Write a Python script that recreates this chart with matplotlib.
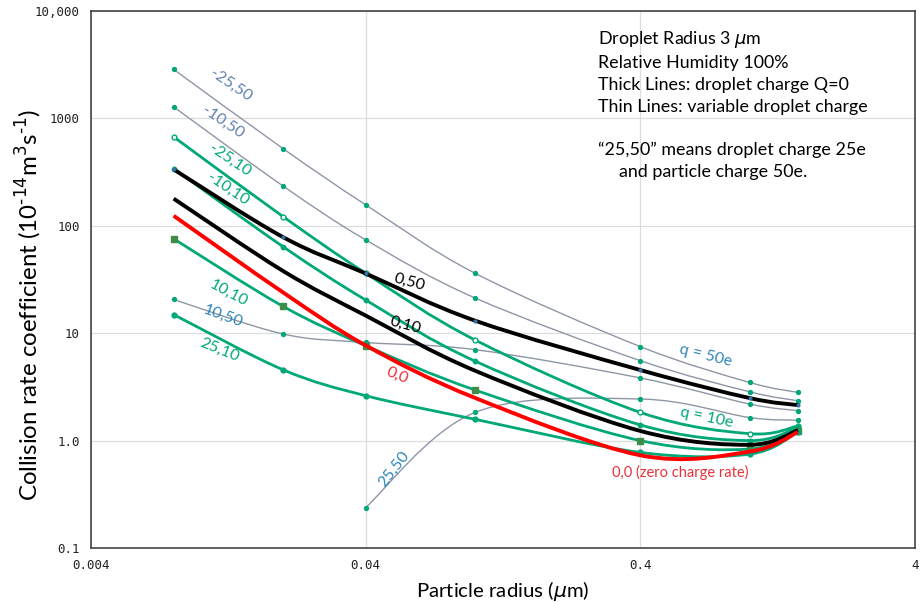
import numpy as np
import matplotlib
matplotlib.use('Agg')
from matplotlib import pyplot as plt
from matplotlib.path import Path
import matplotlib.patches as patches
from matplotlib.ticker import FixedLocator, NullLocator

# 粒子半径 (um)
radius = [0.008, 0.02, 0.04, 0.1, 0.4, 1.0, 1.5]

# 碰撞率系数, 名称 = 液滴电荷,粒子电荷
m25_50 = [2860, 524, 157, 36.2, 7.5, 3.48, 2.81]
m10_50 = [1280, 235, 74, 21.3, 5.55, 2.85, 2.35]
p10_50 = [20.6, 9.84, 8.2, 7.03, 3.83, 2.19, 1.90]
p25_50 = [np.nan, np.nan, 0.238, 1.83, 2.44, 1.64, 1.55]
m25_10 = [673, 122, 36.2, 8.66, 1.83, 1.16, 1.37]
m10_10 = [341, 64, 20.4, 5.5, 1.40, 1.0, 1.33]
p10_10 = [75.7, 17.8, 7.66, 2.96, 1.0, 0.834, 1.22]
p25_10 = [14.9, 4.57, 2.62, 1.58, 0.776, 0.748, 1.2]
q0_50 = [335, 78.5, 36, 13.1, 4.54, 2.49, 2.14]
q0_10 = [179, 38, 14.6, 4.48, 1.23, 0.914, 1.25]
q0_0 = [124, 24, 7.7, 2.5, 0.73, 0.79, 1.2]

x_ticks = [0.004, 0.04, 0.4, 4]
x_labels = ['0.004', '0.04', '0.4', '4']
y_ticks = [0.1, 1, 10, 100, 1000, 10000]
y_labels = ['0.1', '1.0', '10', '100', '1000', '10,000']

GREEN = '#00A878'
GREY = '#8E96A6'
BLUE = '#2F86B8'
SLATE = '#5F7FAE'
RED_TXT = '#E8303A'


def smooth_path(xs, ys):
    """Excel 风格的平滑曲线: log-log 空间里的 Catmull-Rom -> Bezier"""
    xs = np.asarray(xs, float)
    ys = np.asarray(ys, float)
    ok = ~np.isnan(ys)
    pts = np.column_stack([np.log10(xs[ok]), np.log10(ys[ok])])
    n = len(pts)
    verts = [pts[0]]
    codes = [Path.MOVETO]
    for i in range(n - 1):
        p0 = pts[max(i - 1, 0)]
        p1 = pts[i]
        p2 = pts[i + 1]
        p3 = pts[min(i + 2, n - 1)]
        c1 = p1 + (p2 - p0) / 6
        c2 = p2 - (p3 - p1) / 6
        verts += [c1, c2, p2]
        codes += [Path.CURVE4] * 3
    verts = 10 ** np.array(verts)
    return Path(verts, codes)


def draw(ax, ys, color, lw, marker=None, ms=3, mfc=None, mec=None, z=2):
    ax.add_patch(patches.PathPatch(smooth_path(radius, ys), fill=False,
                                   edgecolor=color, lw=lw, zorder=z))
    if marker:
        ax.plot(radius, ys, linestyle='none', marker=marker, ms=ms,
                mfc=mfc or GREEN, mec=mec or GREEN, mew=1, zorder=z + 0.5)


fig, ax = plt.subplots(figsize=(9.22, 6.02), dpi=100)
fig.subplots_adjust(left=0.0987, right=0.9924, top=0.9817, bottom=0.0897)

ax.set_xscale('log')
ax.set_yscale('log')
ax.set_xlim(0.004, 4)
ax.set_ylim(0.1, 10000)

# 细线 (灰色)
for s in [m25_50, m10_50, p10_50, p25_50]:
    draw(ax, s, GREY, 1.0, marker='o', ms=2.8, z=2)

# 绿色线
draw(ax, m25_10, GREEN, 2.0, marker='o', ms=3.5, mfc='white', z=3)
draw(ax, m10_10, GREEN, 2.0, marker='o', ms=3.2, z=3)
draw(ax, p10_10, GREEN, 2.0, marker='s', ms=4, mfc='#3E8E4A', mec='#3E8E4A', z=3)
draw(ax, p25_10, GREEN, 2.0, marker='o', ms=3.5, z=3)

# 粗线 Q=0
draw(ax, q0_50, 'black', 2.8, marker='o', ms=2, mfc='#3B6EA5', mec='#3B6EA5', z=4)
draw(ax, q0_10, 'black', 2.8, z=4)
draw(ax, q0_0, '#FF0000', 2.8, z=5)

# 坐标轴
ax.xaxis.set_major_locator(FixedLocator(x_ticks))
ax.yaxis.set_major_locator(FixedLocator(y_ticks))
ax.xaxis.set_minor_locator(NullLocator())
ax.yaxis.set_minor_locator(NullLocator())
ax.set_xticklabels(x_labels, fontsize=9, family='DejaVu Sans Mono')
ax.set_yticklabels(y_labels, fontsize=9, family='DejaVu Sans Mono')
ax.tick_params(length=0, pad=8, colors='#222222')
ax.grid(True, color='#DDDDDD', lw=0.9)
ax.set_axisbelow(True)
for sp in ax.spines.values():
    sp.set_color('#444444')
    sp.set_linewidth(1.2)

ax.set_xlabel(r'Particle radius ($\mu$m)', fontsize=14.7, family='Lato', labelpad=5)
ax.set_ylabel('Collision rate coefficient (10$^{\\text{-}14}$m$^{3}$s$^{\\text{-}1}$)',
              fontsize=17.3, family='Lato', va='center')
ax.yaxis.set_label_coords(-0.0752, 0.452)

# 曲线标签
labels = [
    ('-25,50', 0.0129, 2040, -34, SLATE),
    ('-10,50', 0.0121, 920, -34, SLATE),
    ('-25,10', 0.0128, 405, -34, GREEN),
    ('-10,10', 0.0126, 219, -34, GREEN),
    ('10,10', 0.0127, 23.4, -28, GREEN),
    ('10,50', 0.0121, 14.3, -20, BLUE),
    ('25,10', 0.0117, 6.9, -22, GREEN),
    ('0,50', 0.0578, 29.6, -15, 'black'),
    ('0,10', 0.0556, 11.8, -15, 'black'),
    ('0,0', 0.0519, 4.0, -22, RED_TXT),
    ('25,50', 0.0506, 0.546, 52, BLUE),
    ('q = 50e', 0.69, 6.2, -14, BLUE),
    ('q = 10e', 0.70, 1.63, -12, GREEN),
]
for txt, lx, ly, rot, col in labels:
    ax.text(lx, ly, txt, rotation=rot, color=col, fontsize=11.5, family='Lato',
            ha='center', va='center', rotation_mode='anchor')

ax.text(0.315, 0.5, '0,0 (zero charge rate)', color=RED_TXT, fontsize=10.5,
        family='Lato', ha='left', va='center')

note = ('Droplet Radius 3 $\\mu$m\nRelative Humidity 100%\n'
        'Thick Lines: droplet charge Q=0\nThin Lines: variable droplet charge')
ax.text(0.615, 0.967, note, transform=ax.transAxes, fontsize=12.9, family='Lato',
        va='top', ha='left', linespacing=1.43)
ax.text(0.615, 0.757, '\u201c25,50\u201d means droplet charge 25e', transform=ax.transAxes,
        fontsize=12.9, family='Lato', va='top', ha='left')
ax.text(0.641, 0.716, 'and particle charge 50e.', transform=ax.transAxes,
        fontsize=12.9, family='Lato', va='top', ha='left')

plt.savefig('out.png', dpi=100)
